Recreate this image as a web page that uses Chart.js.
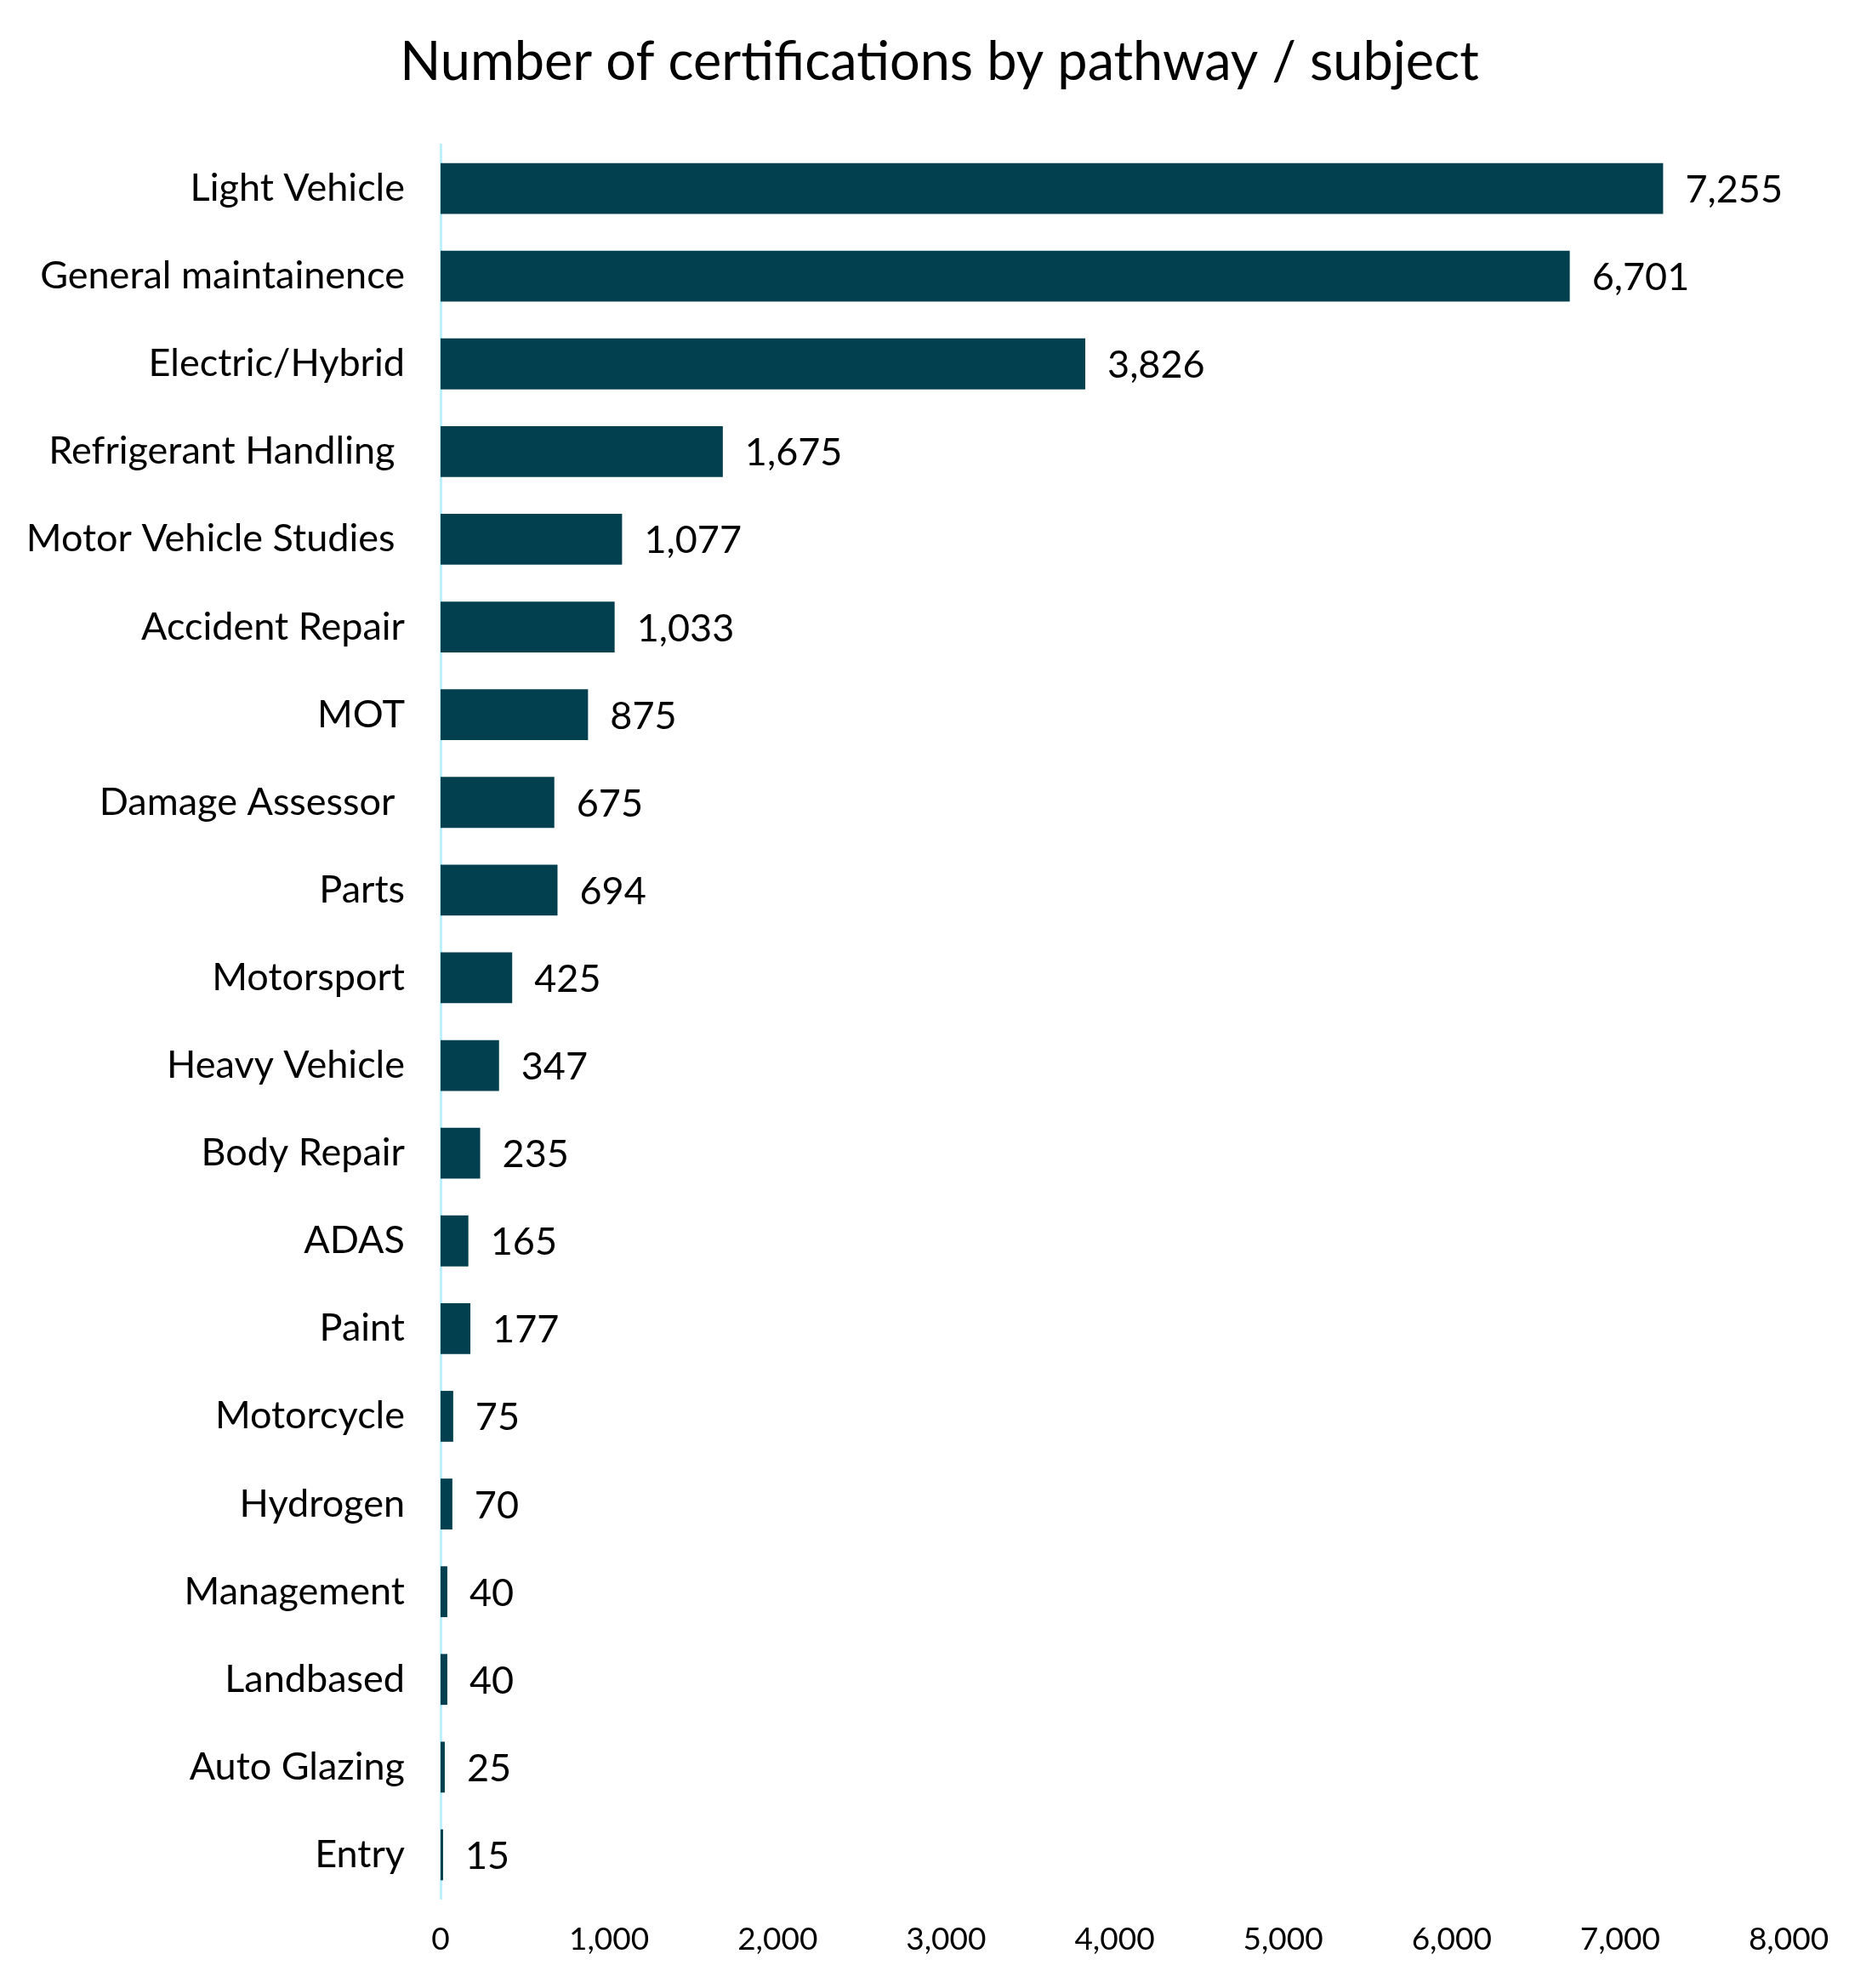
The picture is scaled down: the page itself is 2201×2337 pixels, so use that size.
<!DOCTYPE html>
<html>
<head>
<meta charset="utf-8">
<script src="https://cdn.jsdelivr.net/npm/chart.js@4.4.1/dist/chart.umd.min.js"></script>
<style>
  html, body { margin: 0; padding: 0; background: #fff; }
  #wrap { width: 2201px; height: 2337px; position: relative; }
</style>
</head>
<body>
<div id="wrap"><canvas id="chart"></canvas></div>
<script>
// categories and values, top to bottom as in the picture
const pathways = [
  "Light Vehicle", "General maintainence", "Electric/Hybrid", "Refrigerant Handling ",
  "Motor Vehicle Studies ", "Accident Repair", "MOT", "Damage Assessor ", "Parts",
  "Motorsport", "Heavy Vehicle", "Body Repair", "ADAS", "Paint", "Motorcycle",
  "Hydrogen", "Management", "Landbased", "Auto Glazing", "Entry"
];
const certifications = [
  7255, 6701, 3826, 1675, 1077, 1033, 875, 675, 694, 425,
  347, 235, 165, 177, 75, 70, 40, 40, 25, 15
];
const xTicks = [0, 1000, 2000, 3000, 4000, 5000, 6000, 7000, 8000];
const chartTitle = "Number of certifications by pathway / subject";

const barColor = "#02404F";
const labelFont = { family: "Lato", size: 45 };

// value labels past the end of each bar, and the title centred on the page
const valueLabels = {
  id: "valueLabels",
  afterDatasetsDraw(chart) {
    const ctx = chart.ctx;
    const meta = chart.getDatasetMeta(0);
    ctx.save();
    ctx.font = labelFont.size + "px " + labelFont.family;
    ctx.fillStyle = "#000";
    ctx.textAlign = "left";
    ctx.textBaseline = "middle";
    meta.data.forEach((bar, i) => {
      ctx.fillText(certifications[i].toLocaleString("en-US"), bar.x + 26, bar.y + 2);
    });
    ctx.font = "63px Lato";
    ctx.textAlign = "center";
    ctx.fillText(chartTitle, chart.width / 2 + 4, 74);
    ctx.restore();
  }
};

new Chart(document.getElementById("chart"), {
  type: "bar",
  data: {
    labels: pathways,
    datasets: [{
      data: certifications,
      backgroundColor: barColor,
      borderWidth: 0,
      categoryPercentage: 1,
      barPercentage: 0.58
    }]
  },
  options: {
    indexAxis: "y",
    responsive: true,
    maintainAspectRatio: false,
    animation: false,
    devicePixelRatio: 1,
    layout: { padding: { left: 0, right: 98, top: 170, bottom: 0 } },
    plugins: {
      legend: { display: false },
      tooltip: { enabled: false },
      title: { display: false }
    },
    scales: {
      x: {
        min: 0,
        max: 8000,
        afterBuildTicks(scale) {
          scale.ticks = xTicks.map(v => ({ value: v }));
        },
        afterFit(scale) { scale.height = 105; },
        grid: { display: false, drawTicks: false },
        border: { display: false },
        ticks: {
          color: "#000",
          font: { family: "Lato", size: 37 },
          padding: 26,
          maxRotation: 0,
          callback: v => v.toLocaleString("en-US")
        }
      },
      y: {
        afterFit(scale) { scale.width = 518; },
        grid: { display: false, drawTicks: false },
        border: { display: true, color: "#BDEFFD", width: 3 },
        ticks: {
          color: "#000",
          font: labelFont,
          padding: 42,
          autoSkip: false
        }
      }
    }
  },
  plugins: [valueLabels]
});
</script>
</body>
</html>
